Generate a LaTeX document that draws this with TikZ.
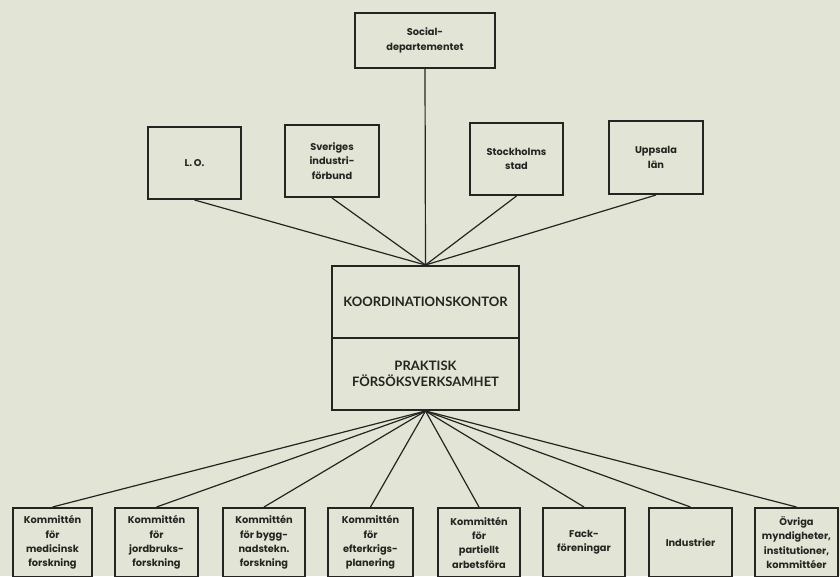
\documentclass[tikz,border=0pt]{standalone}
\usepackage{fontspec}
\newfontfamily\popfont{Poppins}
\newfontfamily\capfont{Lato}
\definecolor{bgcol}{RGB}{226,229,213}
\definecolor{inkcol}{RGB}{38,36,34}
\tikzset{
  orgbox/.style={draw=inkcol, line width=2pt, rectangle, inner sep=0pt, align=center,
    text=inkcol, font=\popfont\bfseries\fontsize{9.8}{14.3}\selectfont},
  capbox/.style={orgbox, font=\capfont\bfseries\fontsize{13}{16.5}\selectfont},
  link/.style={draw=inkcol, line width=1.2pt}
}
\begin{document}
\begin{tikzpicture}[x=1pt,y=-1pt]
\fill[bgcol] (0,0) rectangle (840,576);
\useasboundingbox (0,0) rectangle (840,576);

% top
\node[orgbox, minimum width=140, minimum height=55] (soc) at (425,40.5) {Social-\\departementet};

\node[orgbox, minimum width=93, minimum height=72] (lo) at (194.5,163) {L.\,O.};
\node[orgbox, minimum width=94, minimum height=72] (sif) at (332,161) {Sveriges\\industri-\\förbund};
\node[orgbox, minimum width=93, minimum height=72] (sth) at (516.5,159) {Stockholms\\stad};
\node[orgbox, minimum width=94, minimum height=73] (upp) at (656,157.5) {Uppsala\\län};

% middle
\node[capbox, minimum width=187, minimum height=72] (koord) at (425.5,302) {KOORDINATIONSKONTOR};
\node[capbox, minimum width=187, minimum height=72] (prakt) at (425.5,374) {PRAKTISK\\FÖRSÖKSVERKSAMHET};

% bottom
\node[orgbox, minimum width=79, minimum height=69] (b1) at (52.5,542.5) {Kommittén\\för\\medicinsk\\forskning};
\node[orgbox, minimum width=83, minimum height=69] (b2) at (156.5,542.5) {Kommittén\\för\\jordbruks-\\forskning};
\node[orgbox, minimum width=82, minimum height=69] (b3) at (264,542.5) {Kommittén\\för bygg-\\nadstekn.\\forskning};
\node[orgbox, minimum width=85, minimum height=69] (b4) at (370.5,542.5) {Kommittén\\för\\efterkrigs-\\planering};
\node[orgbox, minimum width=82, minimum height=69] (b5) at (479,542.5) {Kommittén\\för\\partiellt\\arbetsföra};
\node[orgbox, minimum width=82, minimum height=69] (b6) at (584,542.5) {Fack-\\föreningar};
\node[orgbox, minimum width=83, minimum height=69] (b7) at (690.5,542.5) {Industrier};
\node[orgbox, minimum width=83, minimum height=69] (b8) at (796.5,542.5) {Övriga\\myndigheter,\\institutioner,\\kommittéer};

% connectors
\draw[link] (soc.south) -- (koord.north);
\foreach \n in {lo,sif,sth,upp} \draw[link] (\n.south) -- (koord.north);
\foreach \n in {b1,b2,b3,b4,b5,b6,b7,b8} \draw[link] (prakt.south) -- (\n.north);
\end{tikzpicture}
\end{document}
